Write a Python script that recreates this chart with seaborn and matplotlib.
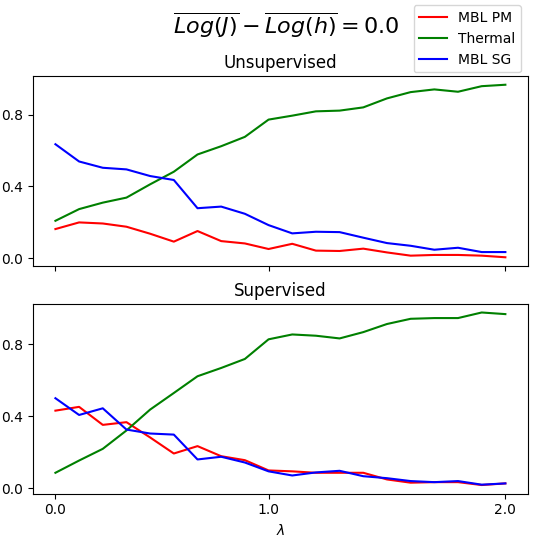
import matplotlib
matplotlib.use('Agg')

import numpy as np
import pandas as pd
import matplotlib.pyplot as plt
import seaborn as sns

# lambda grid (20 points between 0 and 2)
lam = np.linspace(0, 2, 20)
xtick_idx = [0, 9, 19]
xtick_labels = ['0.0', '1.0', '2.0']

unsup_pm = [0.163, 0.200, 0.194, 0.176, 0.137, 0.093, 0.152, 0.096, 0.083, 0.052,
            0.081, 0.043, 0.041, 0.054, 0.033, 0.015, 0.019, 0.019, 0.015, 0.006]
unsup_thermal = [0.209, 0.274, 0.310, 0.338, 0.412, 0.482, 0.578, 0.624, 0.676, 0.772,
                 0.794, 0.818, 0.822, 0.840, 0.890, 0.925, 0.940, 0.927, 0.958, 0.966]
unsup_sg = [0.635, 0.539, 0.504, 0.495, 0.458, 0.436, 0.279, 0.288, 0.248, 0.185,
            0.139, 0.148, 0.146, 0.115, 0.085, 0.070, 0.048, 0.059, 0.035, 0.035]

sup_pm = [0.430, 0.451, 0.351, 0.366, 0.281, 0.192, 0.233, 0.177, 0.155, 0.098,
          0.093, 0.085, 0.085, 0.085, 0.048, 0.030, 0.033, 0.033, 0.017, 0.026]
sup_thermal = [0.085, 0.153, 0.218, 0.320, 0.436, 0.528, 0.621, 0.667, 0.717, 0.826,
               0.853, 0.846, 0.831, 0.866, 0.911, 0.940, 0.944, 0.944, 0.975, 0.966]
sup_sg = [0.499, 0.406, 0.443, 0.325, 0.303, 0.297, 0.159, 0.174, 0.142, 0.093,
          0.070, 0.087, 0.096, 0.066, 0.055, 0.039, 0.033, 0.039, 0.019, 0.026]

names = ['MBL PM', 'Thermal', 'MBL SG']
colors = ['red', 'green', 'blue']
panels = [('Unsupervised', [unsup_pm, unsup_thermal, unsup_sg]),
          ('Supervised', [sup_pm, sup_thermal, sup_sg])]

fig, axes = plt.subplots(2, 1, figsize=(5.58, 5.36), dpi=100, sharex=True)
fig.subplots_adjust(left=0.059, right=0.946, top=0.858, bottom=0.079, hspace=0.2)

for ax, (title, series) in zip(axes, panels):
    for name, vals, c in zip(names, series, colors):
        sns.lineplot(x=lam, y=vals, color=c, label=name, ax=ax, legend=False)
    ax.set_title(title)
    ax.set_yticks([0.0, 0.4, 0.8])
    ax.set_ylabel('')

axes[1].set_xticks(lam[xtick_idx])
axes[1].set_xticklabels(xtick_labels)
axes[1].set_xlabel(r'$\lambda$')

handles, labels = axes[0].get_legend_handles_labels()
fig.legend(handles, labels, loc='upper right', bbox_to_anchor=(0.946, 1.003))
fig.suptitle(r'$\overline{Log(J)} - \overline{Log(h)} = 0.0$', fontsize=16, x=0.512)

plt.savefig('out.png', dpi=100)
